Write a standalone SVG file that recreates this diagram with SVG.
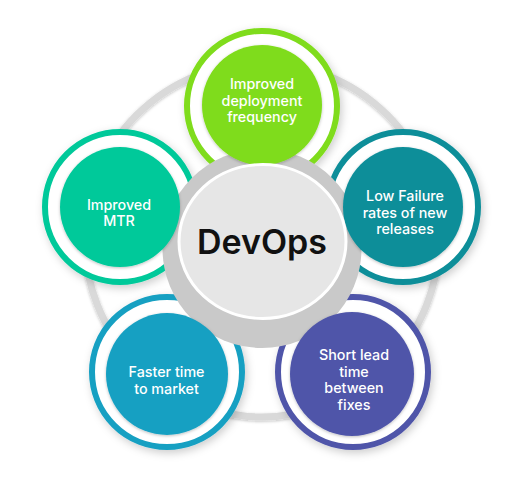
<svg xmlns="http://www.w3.org/2000/svg" width="522" height="486" viewBox="0 0 522 486">
  <defs>
    <filter id="sh" x="-20%" y="-20%" width="140%" height="140%">
      <feDropShadow dx="2" dy="3" stdDeviation="4" flood-color="#000" flood-opacity="0.2"/>
    </filter>
    <filter id="sh2" x="-20%" y="-20%" width="140%" height="140%">
      <feDropShadow dx="0" dy="1" stdDeviation="1.5" flood-color="#000" flood-opacity="0.25"/>
    </filter>
  </defs>
  <style>
    .ring{fill:#fff;stroke-width:6;filter:url(#sh)}
    .fillc{filter:url(#sh2)}
    .lbl{font-family:Inter,"Noto Sans",sans-serif;font-size:14.3px;font-weight:500;fill:#fff;text-anchor:middle}
    .title{font-family:Inter,"Noto Sans",sans-serif;font-size:34px;font-weight:600;fill:#111;text-anchor:middle}
  </style>
  <rect width="522" height="486" fill="#fff"/>
  <g id="connectors">
    <circle cx="262" cy="240" r="177" fill="none" stroke="#d9d9d9" stroke-width="7" filter="url(#sh2)"/>
  </g>
  <g id="rings">
    <circle class="ring" cx="262" cy="106" r="75" stroke="#7fdc1a"/>
    <circle class="ring" cx="120" cy="207" r="75" stroke="#03c99a"/>
    <circle class="ring" cx="403" cy="207" r="75" stroke="#0b8e99"/>
    <circle class="ring" cx="167" cy="372" r="75" stroke="#17a0c2"/>
    <circle class="ring" cx="353" cy="372" r="75" stroke="#4f55a9"/>
  </g>
  <g id="gear">
    <circle cx="262" cy="248.5" r="99.5" fill="#c9c9c9"/>
  </g>
  <g id="node-deploy">
    <circle class="fillc" cx="262" cy="105" r="60" fill="#7fdc1a"/>
    <text class="lbl" x="262" y="89">Improved</text>
    <text class="lbl" x="262" y="105.5">deployment</text>
    <text class="lbl" x="262" y="122">frequency</text>
  </g>
  <g id="node-mtr">
    <circle class="fillc" cx="120" cy="207" r="60" fill="#03c99a"/>
    <text class="lbl" x="119" y="209.5">Improved</text>
    <text class="lbl" x="119" y="226">MTR</text>
  </g>
  <g id="node-failure">
    <circle class="fillc" cx="403" cy="207" r="60" fill="#0b8e99"/>
    <text class="lbl" x="405" y="201">Low Failure</text>
    <text class="lbl" x="405" y="217.5">rates of new</text>
    <text class="lbl" x="405" y="234">releases</text>
  </g>
  <g id="node-faster">
    <circle class="fillc" cx="167" cy="374" r="61" fill="#17a0c2"/>
    <text class="lbl" x="166.5" y="377">Faster time</text>
    <text class="lbl" x="166.5" y="394">to market</text>
  </g>
  <g id="node-short">
    <circle class="fillc" cx="352" cy="374" r="62" fill="#4f55a9"/>
    <text class="lbl" x="354" y="360">Short lead</text>
    <text class="lbl" x="354" y="376.5">time</text>
    <text class="lbl" x="354" y="393">between</text>
    <text class="lbl" x="354" y="410">fixes</text>
  </g>
  <g id="node-devops">
    <ellipse cx="262.5" cy="241.5" rx="83.5" ry="77" fill="#e6e6e6" stroke="#fff" stroke-width="3"/>
    <text class="title" x="262" y="254">DevOps</text>
  </g>
</svg>
